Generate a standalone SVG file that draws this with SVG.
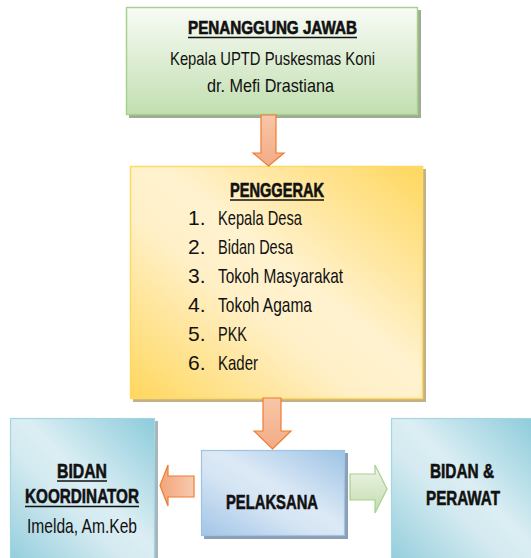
<svg xmlns="http://www.w3.org/2000/svg" width="531" height="558" viewBox="0 0 531 558">
<defs>
<linearGradient id="gGreen" x1="0" y1="0" x2="0" y2="1">
<stop offset="0" stop-color="#f8fbf6"/><stop offset="1" stop-color="#c2dfb0"/>
</linearGradient>
<linearGradient id="gYellow" x1="1" y1="0" x2="0" y2="1">
<stop offset="0" stop-color="#ffd75e"/><stop offset="0.45" stop-color="#fff2cf"/><stop offset="0.6" stop-color="#fff0c8"/><stop offset="1" stop-color="#ffd75e"/>
</linearGradient>
<linearGradient id="gBlue" x1="1" y1="0" x2="0" y2="1">
<stop offset="0" stop-color="#9dc3e6"/><stop offset="0.45" stop-color="#dce9f5"/><stop offset="0.6" stop-color="#d6e5f4"/><stop offset="1" stop-color="#a2c5e7"/>
</linearGradient>
<linearGradient id="gTeal" x1="1" y1="0" x2="0" y2="1">
<stop offset="0" stop-color="#8ccbdb"/><stop offset="0.45" stop-color="#dbeef3"/><stop offset="0.6" stop-color="#d3eaf0"/><stop offset="1" stop-color="#92cddc"/>
</linearGradient>
<linearGradient id="gOrangeV" x1="0" y1="0" x2="0" y2="1">
<stop offset="0" stop-color="#f8c6a8"/><stop offset="1" stop-color="#f3ab85"/>
</linearGradient>
<linearGradient id="gOrangeH" x1="0" y1="0" x2="1" y2="0">
<stop offset="0" stop-color="#f3a47a"/><stop offset="1" stop-color="#f8cbb0"/>
</linearGradient>
<linearGradient id="gGreenH" x1="0" y1="0" x2="0" y2="1">
<stop offset="0" stop-color="#eef5e8"/><stop offset="1" stop-color="#c3dcae"/>
</linearGradient>
</defs>
<style>
.t{font-family:"Liberation Sans",Arial,sans-serif;fill:#111;}
.b{font-weight:bold;stroke:#111;stroke-width:0.6;}
.c{text-anchor:middle;}
.ul{stroke:#111;stroke-width:1.6;}
.arO{stroke:#ed7d31;stroke-width:1.2;}
</style>
<rect width="531" height="558" fill="#ffffff"/>

<g id="penanggung-jawab">
<rect x="129" y="10" width="292" height="108" fill="#a0ab94"/>
<rect x="126.5" y="7.5" width="291" height="107" fill="url(#gGreen)" stroke="#a9d18e" stroke-width="1.5"/>
<text class="t b c" x="272.5" y="34" font-size="17.5" textLength="169" lengthAdjust="spacingAndGlyphs">PENANGGUNG JAWAB</text>
<line class="ul" x1="188" y1="37.5" x2="357" y2="37.5"/>
<text class="t c" x="272.5" y="65" font-size="18.5" textLength="205" lengthAdjust="spacingAndGlyphs">Kepala UPTD Puskesmas Koni</text>
<text class="t c" x="270.5" y="92" font-size="18.5" textLength="127" lengthAdjust="spacingAndGlyphs">dr. Mefi Drastiana</text>
</g>

<g id="penggerak">
<rect x="133" y="169" width="293" height="233" fill="#c3b083"/>
<rect x="130.5" y="166.5" width="292" height="232" fill="url(#gYellow)" stroke="#ffd966" stroke-width="1.5"/>
<text class="t b c" x="277" y="197" font-size="19.5" textLength="94" lengthAdjust="spacingAndGlyphs">PENGGERAK</text>
<line class="ul" x1="230" y1="200" x2="324" y2="200"/>
<g class="t" font-size="21">
<text x="188" y="225">1.</text><text x="218" y="225" textLength="84" lengthAdjust="spacingAndGlyphs">Kepala Desa</text>
<text x="188" y="254">2.</text><text x="218" y="254" textLength="75" lengthAdjust="spacingAndGlyphs">Bidan Desa</text>
<text x="188" y="283">3.</text><text x="218" y="283" textLength="125" lengthAdjust="spacingAndGlyphs">Tokoh Masyarakat</text>
<text x="188" y="312">4.</text><text x="218" y="312" textLength="94" lengthAdjust="spacingAndGlyphs">Tokoh Agama</text>
<text x="188" y="341">5.</text><text x="218" y="341" textLength="29" lengthAdjust="spacingAndGlyphs">PKK</text>
<text x="188" y="370">6.</text><text x="218" y="370" textLength="40" lengthAdjust="spacingAndGlyphs">Kader</text>
</g>
</g>

<g id="pelaksana">
<rect x="204" y="453" width="144" height="86" fill="#8e9fb5"/>
<rect x="201.5" y="450.5" width="143" height="85" fill="url(#gBlue)" stroke="#9dc3e6" stroke-width="1.2"/>
<text class="t b c" x="272" y="509" font-size="21" textLength="92" lengthAdjust="spacingAndGlyphs">PELAKSANA</text>
</g>

<g id="bidan-koordinator">
<rect x="13" y="421" width="145" height="145" fill="#a5b7bc"/>
<rect x="10.5" y="418.5" width="144" height="145" fill="url(#gTeal)" stroke="#a5d5e2" stroke-width="1.2"/>
<text class="t b c" x="82" y="478" font-size="21" textLength="50" lengthAdjust="spacingAndGlyphs">BIDAN</text>
<line class="ul" x1="57" y1="481" x2="107" y2="481"/>
<text class="t b c" x="82" y="503" font-size="21" textLength="114" lengthAdjust="spacingAndGlyphs">KOORDINATOR</text>
<line class="ul" x1="25" y1="506.5" x2="139" y2="506.5"/>
<text class="t c" x="82" y="533" font-size="21" textLength="110" lengthAdjust="spacingAndGlyphs">Imelda, Am.Keb</text>
</g>

<g id="bidan-perawat">
<rect x="394" y="421" width="145" height="145" fill="#a5b7bc"/>
<rect x="391.5" y="418.5" width="144" height="145" fill="url(#gTeal)" stroke="#a5d5e2" stroke-width="1.2"/>
<text class="t b c" x="462" y="478" font-size="21" textLength="64" lengthAdjust="spacingAndGlyphs">BIDAN &amp;</text>
<text class="t b c" x="463" y="505" font-size="21" textLength="74" lengthAdjust="spacingAndGlyphs">PERAWAT</text>
</g>

<g id="connectors">
<polygon class="arO" fill="url(#gOrangeV)" points="261,115 276,115 276,153 284,153 268.5,166 253,153 261,153"/>
<polygon class="arO" fill="url(#gOrangeV)" points="263,398 281,398 281,431 291,431 272.5,449 254,431 263,431"/>
<polygon class="arO" fill="url(#gOrangeH)" points="194,476 168,476 168,465 160,485.5 168,506 168,497 194,497"/>
<polygon fill="url(#gGreenH)" stroke="#a9d18e" stroke-width="1.2" points="350,474 375,474 375,465 387,489 375,513 375,500 350,500"/>
</g>
</svg>
